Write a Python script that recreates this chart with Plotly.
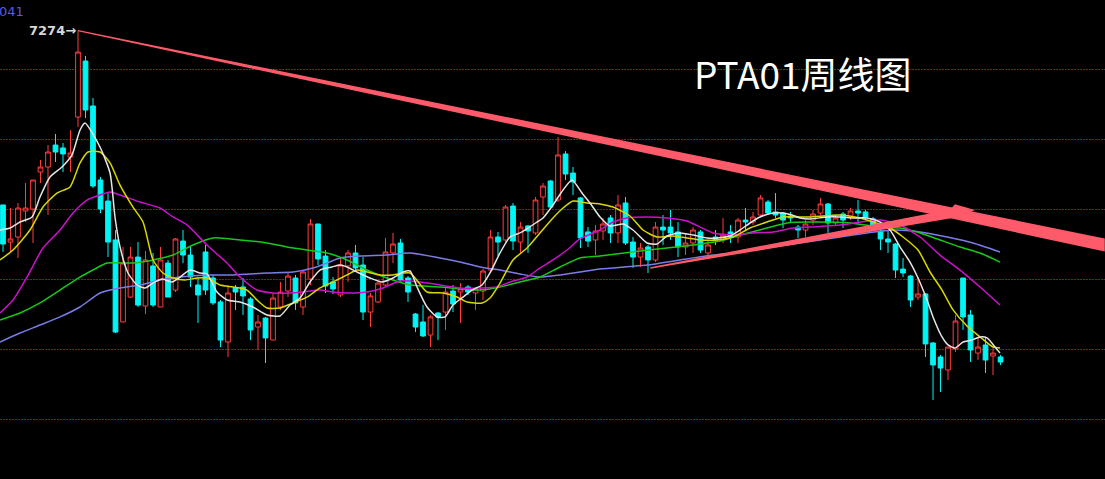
import plotly.graph_objects as go

# ---------------- data (weekly PTA01 candles) ----------------
idx = list(range(134))
opens = [6029, 5764, 5800, 5986, 6000, 6264, 6300, 6457, 6436, 6371,
         6657, 7057, 6736, 6207, 6057, 5779, 5193, 5371, 5657, 5307,
         5593, 5300, 5614, 5421, 5771, 5671, 5457, 5693, 5507, 5336,
         5050, 5436, 5443, 5357, 5157, 5221, 5064, 5300, 5414, 5507,
         5300, 5500, 5893, 5664, 5479, 5386, 5593, 5686, 5600, 5264,
         5336, 5457, 5686, 5757, 5507, 5250, 5193, 5100, 5257, 5264,
         5414, 5407, 5443, 5400, 5414, 5564, 5800, 5779, 6021, 5764,
         5879, 5829, 6086, 6200, 6064, 6393, 6257, 6079, 5836, 5779,
         5843, 5936, 5829, 6043, 5764, 5657, 5729, 5636, 5871, 5871,
         5836, 5729, 5757, 5836, 5686, 5800, 5779, 5836, 5800, 5921,
         5907, 5957, 6050, 5979, 5971, 5950, 5871, 5850, 5921, 5971,
         6036, 5900, 5964, 5943, 5986, 5979, 5929, 5843, 5786, 5750,
         5571, 5521, 5371, 5393, 5043, 4943, 4850, 5000, 5507, 5243,
         4971, 5029, 4950, 4943]
highs = [6029, 6007, 6043, 6186, 6207, 6350, 6457, 6536, 6471, 6564,
         7274, 7093, 6793, 6229, 6114, 5850, 5729, 5729, 5764, 5700,
         5686, 5729, 5636, 5793, 5850, 5729, 5514, 5743, 5529, 5350,
         5457, 5457, 5507, 5371, 5243, 5229, 5400, 5479, 5543, 5529,
         5564, 5929, 5893, 5707, 5514, 5657, 5707, 5743, 5657, 5400,
         5479, 5793, 5829, 5786, 5521, 5257, 5314, 5243, 5264, 5443,
         5457, 5471, 5457, 5443, 5571, 5850, 5836, 6029, 6043, 5907,
         5886, 6086, 6186, 6207, 6514, 6414, 6300, 6086, 5871, 5886,
         5936, 5957, 6100, 6086, 5800, 5757, 5743, 5907, 5957, 5993,
         5907, 5829, 5871, 5850, 5779, 5850, 5936, 5886, 5936, 6007,
         5979, 6100, 6064, 6114, 5979, 5979, 5886, 5921, 5993, 6079,
         6043, 5957, 5979, 6007, 6064, 5993, 5943, 5864, 5850, 5757,
         5650, 5529, 5514, 5400, 5050, 4957, 5014, 5243, 5507, 5279,
         5079, 5086, 5007, 4957]
lows = [5693, 5700, 5650, 5907, 5757, 6186, 5957, 6336, 6264, 6264,
        6586, 6650, 6150, 5971, 5657, 5114, 5193, 5364, 5300, 5250,
        5300, 5300, 5371, 5407, 5614, 5443, 5186, 5386, 5314, 5014,
        4943, 5279, 5243, 5064, 4993, 4900, 5064, 5279, 5371, 5279,
        5243, 5457, 5600, 5400, 5393, 5371, 5479, 5564, 5207, 5157,
        5329, 5443, 5614, 5479, 5336, 5121, 5086, 5014, 5064, 5136,
        5264, 5186, 5386, 5279, 5350, 5543, 5664, 5764, 5707, 5686,
        5686, 5814, 5957, 6000, 6050, 6207, 6100, 5721, 5729, 5671,
        5779, 5757, 5757, 5743, 5579, 5586, 5543, 5621, 5743, 5779,
        5657, 5671, 5686, 5686, 5671, 5743, 5757, 5757, 5757, 5850,
        5886, 5943, 5957, 5936, 5864, 5907, 5793, 5800, 5886, 5957,
        5829, 5886, 5864, 5921, 5907, 5921, 5864, 5707, 5686, 5507,
        5514, 5300, 5350, 4943, 4636, 4693, 4779, 4979, 5136, 4907,
        4921, 4829, 4814, 4886]
closes = [5750, 5786, 6007, 6007, 6207, 6300, 6407, 6407, 6393, 6400,
          7121, 6707, 6164, 6000, 5764, 5121, 5614, 5657, 5314, 5636,
          5314, 5636, 5371, 5786, 5671, 5514, 5386, 5421, 5329, 5064,
          5400, 5407, 5379, 5136, 5193, 5079, 5364, 5407, 5521, 5329,
          5550, 5893, 5643, 5450, 5429, 5600, 5686, 5579, 5264, 5379,
          5471, 5693, 5750, 5493, 5407, 5157, 5093, 5229, 5229, 5407,
          5321, 5429, 5407, 5429, 5557, 5800, 5764, 6014, 5771, 5871,
          5843, 6064, 6164, 6014, 6386, 6250, 6193, 5793, 5771, 5843,
          5893, 5829, 6029, 5757, 5657, 5721, 5636, 5871, 5850, 5829,
          5729, 5757, 5850, 5707, 5743, 5779, 5814, 5800, 5921, 5907,
          5943, 6079, 5971, 5957, 5921, 5936, 5850, 5893, 5964, 6036,
          5900, 5936, 5921, 5986, 5971, 5943, 5886, 5786, 5764, 5564,
          5543, 5350, 5393, 5036, 4886, 4864, 5014, 5200, 5229, 4993,
          5014, 4921, 4971, 4907]

# moving-average lines (candle position, price)
ma5_x = [-0.4, 0.93, 2.27, 3.87, 4.93, 6.27, 7.87, 9.2, 10.27, 10.93, 12.93, 14.27, 14.93, 15.6,
         16.67, 17.87, 18.93, 20, 21.2, 22.53, 23.6, 24.93, 26.27, 27.2, 28.53, 29.87, 31.6,
         33.33, 35.2, 36.93, 38.27, 39.6, 40.93, 42.27, 43.87, 44.93, 45.87, 47.2, 48.93, 50.53,
         52, 53.33, 54.27, 55.2, 56.53, 57.87, 58.93, 60, 61.33, 62.53, 63.87, 64.93, 66.27,
         67.6, 68.93, 70, 71.2, 72, 73.33, 74.67, 75.87, 77.2, 78.27, 79.6, 80.93, 82.67, 84,
         85.87, 87.2, 88.53, 90.27, 92, 93.87, 95.2, 96.93, 98.27, 99.6, 100.93, 102.67, 104,
         105.2, 106.27, 107.6, 109.87, 111.6, 113.33, 115.2, 116.93, 118.27, 119.6, 120.93, 122,
         123.2, 124, 125.2, 126, 126.93, 128, 129.2, 130.27, 131.2, 132.27, 132.93]
ma5_y = [5850, 5864, 5907, 5943, 6086, 6229, 6300, 6386, 6564, 6614, 6443, 6257, 5943, 5729,
         5543, 5457, 5436, 5471, 5500, 5479, 5514, 5564, 5543, 5536, 5407, 5350, 5336,
         5300, 5243, 5236, 5314, 5364, 5479, 5564, 5586, 5600, 5586, 5550, 5507, 5479,
         5507, 5550, 5557, 5443, 5300, 5229, 5229, 5314, 5371, 5421, 5457, 5543, 5686,
         5800, 5829, 5864, 5907, 5936, 6029, 6136, 6207, 6114, 6043, 5943, 5879, 5893, 5850,
         5757, 5750, 5807, 5829, 5814, 5793, 5793, 5807, 5850, 5900, 5943, 5971, 5971,
         5957, 5936, 5929, 5943, 5943, 5936, 5936, 5907, 5850, 5729, 5621, 5507,
         5350, 5229, 5086, 5029, 5007, 5050, 5064, 5086, 5079, 5014, 4971]
ma10_x = [-0.4, 1.33, 3.6, 5.33, 7.2, 8.93, 10.27, 11.33, 12.93, 14.27, 15.6, 17.33, 18.67, 20,
          21.33, 22.67, 24.27, 25.87, 27.2, 28.93, 30.67, 32.53, 33.87, 35.2, 36.93, 38.67,
          40.53, 42.27, 44, 45.87, 47.2, 48.53, 50.27, 52, 54.27, 56.53, 58.67, 60.53, 61.87,
          63.87, 64.93, 66.27, 68, 69.87, 71.6, 73.33, 74.67, 76, 77.87, 79.6, 81.33, 83.6,
          85.33, 87.2, 89.33, 91.2, 92.93, 95.2, 97.33, 99.6, 101.87, 104, 106.27, 107.6,
          111.6, 114.27, 118.27, 120, 122, 123.6, 125.2, 126.67, 128.53, 130.27, 132, 132.93]
ma10_y = [5636, 5707, 5850, 6014, 6114, 6157, 6329, 6407, 6407, 6329, 6171, 6014, 5907, 5636,
          5543, 5507, 5493, 5507, 5507, 5457, 5443, 5421, 5350, 5293, 5293, 5329,
          5371, 5436, 5479, 5529, 5564, 5550, 5529, 5529, 5543, 5407, 5400, 5371, 5336,
          5329, 5364, 5471, 5636, 5721, 5829, 5936, 6007, 6057, 6043, 6036, 6014, 5950,
          5850, 5800, 5807, 5793, 5779, 5779, 5800, 5864, 5907, 5943, 5943, 5943,
          5957, 5936, 5864, 5800, 5707, 5550, 5421, 5279, 5164, 5086, 5014, 5007]
ma20_x = [-0.4, 1.33, 3.2, 5.33, 7.6, 9.33, 11.2, 12.93, 14.27, 15.6, 18.27, 20.93, 22.67, 24.53,
          27.2, 29.87, 31.6, 33.87, 36, 38.27, 40, 42.27, 44, 45.87, 48.53, 50.67, 52.93, 55.6,
          58.27, 60.93, 63.6, 65.87, 67.6, 69.87, 71.6, 73.33, 75.2, 76.93, 79.6, 81.33, 83.2,
          85.87, 88.53, 91.2, 92.93, 94.67, 97.33, 100, 102.67, 105.33, 107.6, 111.6, 116.93,
          119.6, 122.27, 124.93, 127.6, 130.27, 132.93]
ma20_y = [5257, 5350, 5514, 5721, 5850, 5971, 6064, 6100, 6121, 6100, 6050, 6007, 5943, 5886,
          5743, 5614, 5514, 5421, 5400, 5400, 5407, 5421, 5407, 5400, 5407, 5436, 5486, 5479,
          5457, 5436, 5436, 5443, 5479, 5514, 5579, 5636, 5707, 5786, 5850, 5907, 5936,
          5943, 5936, 5914, 5871, 5829, 5814, 5829, 5836, 5864, 5871, 5886, 5921,
          5886, 5800, 5671, 5564, 5443, 5314]
ma40_x = [-0.4, 2.27, 4.93, 7.6, 10.27, 12, 13.87, 17.33, 20, 22.67, 25.33, 28, 31.6, 35.2, 37.87,
          40.53, 43.2, 45.87, 48.53, 51.2, 54.27, 58.27, 63.6, 66.27, 68.93, 71.6, 74.27, 76.93,
          79.6, 84.93, 88.53, 92, 95.6, 98.27, 101.87, 104.53, 107.6, 112.93, 116.93, 119.6,
          122.27, 124.93, 127.6, 130.27, 132.93]
ma40_y = [5207, 5257, 5329, 5421, 5514, 5564, 5614, 5614, 5636, 5671, 5743, 5793, 5779, 5757, 5729,
          5707, 5686, 5636, 5564, 5507, 5457, 5443, 5421, 5443, 5479, 5514, 5586, 5650,
          5664, 5700, 5721, 5743, 5771, 5814, 5864, 5900, 5907, 5900, 5871, 5864,
          5829, 5779, 5729, 5686, 5621]
ma60_x = [-0.4, 2.27, 4.93, 7.6, 10.27, 12.93, 15.6, 18.27, 20.93, 23.6, 27.2, 30.67, 35.2, 38.67,
          41.33, 43.2, 44.93, 47.6, 51.2, 54.27, 58.27, 60.93, 63.6, 66.27, 68.93, 71.6, 74.27,
          76.93, 79.6, 85.87, 90.27, 94.67, 97.33, 101.87, 106.27, 110.67, 115.2, 118.67,
          122.27, 125.87, 129.33, 132.93]
ma60_y = [5050, 5114, 5171, 5229, 5300, 5400, 5436, 5457, 5493, 5514, 5529, 5529, 5543, 5550,
          5579, 5614, 5650, 5664, 5671, 5686, 5650, 5621, 5586, 5564, 5536, 5514, 5529,
          5550, 5571, 5600, 5636, 5671, 5686, 5721, 5757, 5793, 5829, 5850,
          5836, 5800, 5757, 5693]

# hand-drawn trend lines (candle position, price)
down_trend_x = [10, 146.9]
down_trend_y = [7274, 5743]
up_trend_x = [86.3, 129.6]
up_trend_y = [5579, 5993]

grid_levels = [4500, 5000, 5500, 6000, 6500, 7000]
title_text = "PTA01周线图"
peak_label = "7274→"
corner_label = "041"

# ---------------- styling ----------------
RED = "#ff3c3c"
CYAN = "#00f5f5"
TREND = "#ff5a6a"
PPX = 500 / 70.0  # price units per pixel

fig = go.Figure()
fig.add_trace(go.Candlestick(
    x=idx, open=opens, high=highs, low=lows, close=closes,
    increasing=dict(line=dict(color=RED, width=1), fillcolor="#000000"),
    decreasing=dict(line=dict(color=CYAN, width=1), fillcolor=CYAN),
    whiskerwidth=0, hoverinfo="skip", showlegend=False,
))

for xs, ys, col in [(ma60_x, ma60_y, "#7c7ce8"), (ma40_x, ma40_y, "#18c818"),
                    (ma20_x, ma20_y, "#cc10cc"), (ma10_x, ma10_y, "#d8d800"),
                    (ma5_x, ma5_y, "#e6e6e6")]:
    fig.add_trace(go.Scatter(x=xs, y=ys, mode="lines",
                             line=dict(color=col, width=1.5, shape="spline", smoothing=0.6),
                             hoverinfo="skip", showlegend=False))

# down trend (tapered band)
x0, x1 = down_trend_x
y0, y1 = down_trend_y
w0, w1 = 0.6 * PPX, 6.5 * PPX
fig.add_trace(go.Scatter(x=[x0, x1, x1, x0, x0], y=[y0 + w0, y1 + w1, y1 - w1, y0 - w0, y0 + w0],
                         fill="toself", fillcolor=TREND, mode="lines", line=dict(width=0, color=TREND),
                         hoverinfo="skip", showlegend=False))

# up trend arrow
ax0, ax1 = up_trend_x
ay0, ay1 = up_trend_y
t = 0.945
sx = ax0 + (ax1 - ax0) * t
sy = ay0 + (ay1 - ay0) * t
s0, s1 = 0.7 * PPX, 4.2 * PPX
barb_x = sx - 0.3
barb_y = sy + 9 * PPX
fig.add_trace(go.Scatter(
    x=[ax0, sx, ax1, barb_x, sx - 0.9, ax0, ax0],
    y=[ay0 - s0, sy - s1, ay1, barb_y, sy + s1 * 0.9, ay0 + s0, ay0 - s0],
    fill="toself", fillcolor=TREND, mode="lines", line=dict(width=0, color=TREND),
    hoverinfo="skip", showlegend=False))

fig.add_annotation(x=idx[10], y=highs[10], text="<b>" + peak_label + "</b>", showarrow=False,
                   xanchor="right", yanchor="middle", xshift=0,
                   font=dict(family="DejaVu Sans, Arial", size=13, color="#d8d8d8"))
fig.add_annotation(xref="paper", yref="paper", x=0, y=1, text=corner_label, showarrow=False,
                   xanchor="left", yanchor="top", xshift=-3, yshift=-2,
                   font=dict(family="DejaVu Sans, Arial", size=13, color="#5b5be0"))
fig.add_annotation(xref="paper", yref="paper", x=803 / 1105, y=1 - 73 / 479, text=title_text,
                   showarrow=False, xanchor="center", yanchor="middle",
                   font=dict(family="Noto Sans CJK SC, Noto Sans, sans-serif", size=37, color="#ffffff"))

fig.update_layout(
    width=1105, height=479, margin=dict(l=0, r=0, t=0, b=0),
    paper_bgcolor="#000000", plot_bgcolor="#000000",
    boxgap=0.1, hovermode=False, showlegend=False,
    xaxis=dict(range=[-0.4, 146.93], visible=False, rangeslider=dict(visible=False), fixedrange=True),
    yaxis=dict(range=[4071.4, 7492.9], showticklabels=False, zeroline=False,
               tickvals=grid_levels, showgrid=True, gridcolor="#a01010", griddash="2px,1px", gridwidth=1,
               fixedrange=True),
)

fig.write_html("out.html", config={"displayModeBar": False, "staticPlot": True},
               post_script="document.body.style.margin='0';document.body.style.background='#000';")
